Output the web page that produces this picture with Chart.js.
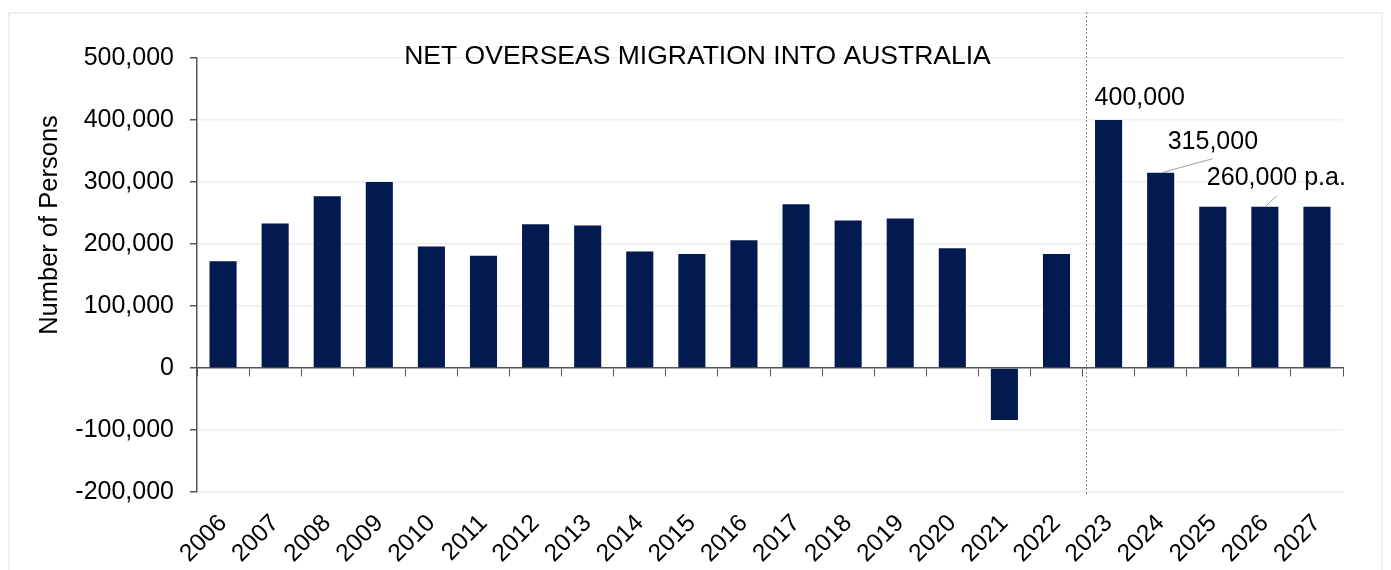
<!DOCTYPE html>
<html>
<head>
<meta charset="utf-8">
<script src="https://cdn.jsdelivr.net/npm/chart.js@4/dist/chart.umd.min.js"></script>
<style>
    body { margin: 0; background: #ffffff; }
    #wrap { position: relative; width: 1391px; height: 570px; }
    #frame { position: absolute; left: 8px; top: 12px; width: 1375px; height: 570px; border: 2px solid #efefef; box-sizing: border-box; }
    #chart { position: absolute; left: 0; top: 0; }
</style>
</head>
<body>
<div id="wrap">
    <div id="frame"></div>
    <canvas id="chart" width="1391" height="570"></canvas>
</div>
<script>
"use strict";

// data
const years = ["2006", "2007", "2008", "2009", "2010", "2011", "2012", "2013", "2014", "2015", "2016",
    "2017", "2018", "2019", "2020", "2021", "2022", "2023", "2024", "2025", "2026", "2027"];
const migration = [172000, 233000, 277000, 300000, 196000, 181000, 232000, 230000, 188000, 184000, 206000,
    264000, 238000, 241000, 193000, -84000, 184000, 400000, 315000, 260000, 260000, 260000];
const yTicks = [-200000, -100000, 0, 100000, 200000, 300000, 400000, 500000];
const chartTitle = "NET OVERSEAS MIGRATION INTO AUSTRALIA";
const yTitle = "Number of Persons";
const forecastStart = 17; // first forecast year (2023)
const calloutIndex = [17, 18, 20];
const calloutText = ["400,000", "315,000", "260,000 p.a."];

const font = "'Liberation Sans', Arial, Helvetica, sans-serif";
const navy = "#021a4f";

/**
 * egna ritningar: titel, y-titel, streckad linje och etiketter
 */
const extras = {
    id: "extras",
    afterDatasetsDraw(chart) {
        const ctx = chart.ctx;
        const x = chart.scales.x;
        const meta = chart.getDatasetMeta(0);
        ctx.save();
        ctx.fillStyle = "#000000";

        // title
        ctx.font = "26.5px " + font;
        ctx.textAlign = "center";
        ctx.textBaseline = "middle";
        ctx.fillText(chartTitle, chart.width / 2 + 2, 57);

        // y axis title
        ctx.save();
        ctx.font = "25.5px " + font;
        ctx.translate(50, 225);
        ctx.rotate(-Math.PI / 2);
        ctx.fillText(yTitle, 0, 0);
        ctx.restore();

        // dotted line between actuals and forecast
        const lineX = (x.getPixelForValue(forecastStart - 1) + x.getPixelForValue(forecastStart)) / 2 + 4;
        ctx.strokeStyle = "#8a8a8a";
        ctx.lineWidth = 1;
        ctx.setLineDash([2, 2]);
        ctx.beginPath();
        ctx.moveTo(lineX, 12);
        ctx.lineTo(lineX, chart.chartArea.bottom + 2);
        ctx.stroke();
        ctx.setLineDash([]);

        // callouts
        ctx.textAlign = "left";
        ctx.font = "25px " + font;
        const bars = calloutIndex.map(i => meta.data[i]);
        ctx.fillText(calloutText[0], bars[0].x - 14, bars[0].y - 22);

        ctx.strokeStyle = "#a0a0a0";
        ctx.beginPath();
        ctx.moveTo(bars[1].x + 1, bars[1].y);
        ctx.lineTo(bars[1].x + 52, bars[1].y - 14);
        ctx.stroke();
        ctx.fillText(calloutText[1], bars[1].x + 7, bars[1].y - 31);

        ctx.beginPath();
        ctx.moveTo(bars[2].x, bars[2].y);
        ctx.lineTo(bars[2].x + 12, bars[2].y - 11);
        ctx.stroke();
        ctx.fillText(calloutText[2], bars[2].x - 58, bars[2].y - 29);
        ctx.restore();
    }
};

new Chart(document.getElementById("chart"), {
    type: "bar",
    data: {
        labels: years,
        datasets: [{
            data: migration,
            backgroundColor: navy,
            borderWidth: 0,
            barPercentage: 0.52,
            categoryPercentage: 1.0
        }]
    },
    options: {
        responsive: false,
        animation: false,
        layout: { padding: { top: 58, right: 48, left: 0, bottom: 0 } },
        plugins: { legend: { display: false }, tooltip: { enabled: false } },
        scales: {
            x: {
                grid: { display: false, drawTicks: false },
                border: { display: false },
                ticks: { color: "#000", font: { family: font, size: 24.5 }, minRotation: 45, maxRotation: 45, padding: 17 },
                afterFit: s => { s.height = 78; }
            },
            x2: {
                type: "category",
                labels: years,
                offset: true,
                position: { y: 0 },
                grid: { offset: true, drawOnChartArea: false, color: "#555", tickLength: 8 },
                border: { color: "#555", width: 1.5 },
                ticks: { display: false }
            },
            y: {
                min: -200000,
                max: 500000,
                afterBuildTicks: s => { s.ticks = yTicks.map(v => ({ value: v })); },
                grid: { color: "#efefef", tickColor: "#555", tickLength: 7, lineWidth: 1.5 },
                border: { color: "#555", width: 1.5 },
                ticks: {
                    color: "#000",
                    font: { family: font, size: 25 },
                    padding: 16,
                    callback: v => v.toLocaleString("en-US")
                },
                afterFit: s => { s.width = 197; }
            }
        }
    },
    plugins: [extras]
});
</script>
</body>
</html>
